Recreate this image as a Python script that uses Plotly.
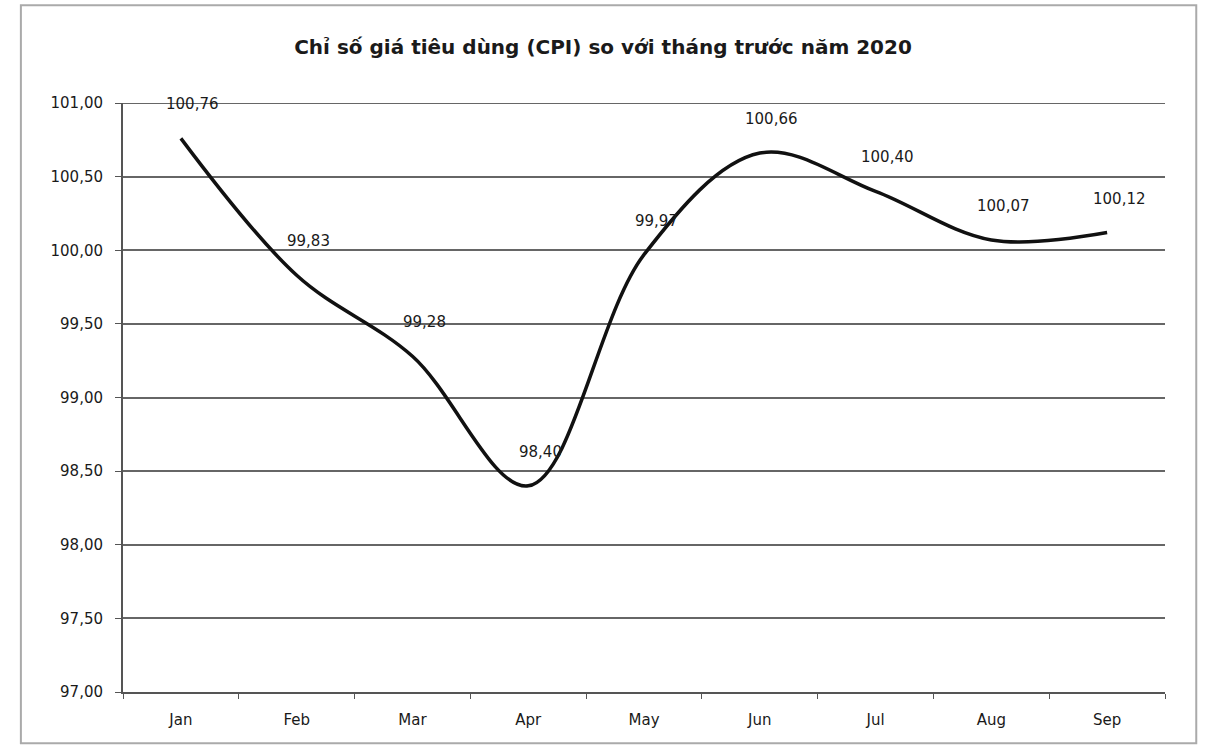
import plotly.graph_objects as go

months = ["Jan", "Feb", "Mar", "Apr", "May", "Jun", "Jul", "Aug", "Sep"]
cpi = [100.76, 99.83, 99.28, 98.40, 99.97, 100.66, 100.40, 100.07, 100.12]
y_ticks = [97.0, 97.5, 98.0, 98.5, 99.0, 99.5, 100.0, 100.5, 101.0]

title = "Chỉ số giá tiêu dùng (CPI) so với tháng trước năm 2020"
FONT = "DejaVu Sans, Arial"

fig = go.Figure()
fig.add_trace(go.Scatter(
    x=months, y=cpi, mode="lines",
    line=dict(color="#111111", width=3.5, shape="spline", smoothing=1.0),
    hoverinfo="x+y", showlegend=False,
))

for m, v in zip(months, cpi):
    fig.add_annotation(
        x=m, y=v, xref="x", yref="y",
        text=f"{v:.2f}".replace(".", ","),
        showarrow=False, yshift=34, xshift=12,
        font=dict(family=FONT, size=15, color="#1a1a1a"),
    )

fig.update_layout(
    width=1206, height=748,
    margin=dict(l=123, r=41, t=103, b=56),
    paper_bgcolor="white", plot_bgcolor="white",
    separators=",.",
    title=dict(text=f"<b>{title}</b>", x=0.5, xanchor="center", y=0.937, yanchor="middle",
               font=dict(family=FONT, size=20, color="#1a1a1a")),
    xaxis=dict(
        type="category", range=[-0.5, 8.5],
        showgrid=False, showline=True, linecolor="#555555", linewidth=2,
        ticks="outside", ticklen=5, tickcolor="#555555", tickson="boundaries",
        ticklabelstandoff=13,
        tickfont=dict(family=FONT, size=15, color="#1a1a1a"),
        fixedrange=True,
    ),
    yaxis=dict(
        range=[97.0, 101.0], tickvals=y_ticks, tickformat=".2f",
        showgrid=True, gridcolor="#666666", gridwidth=2,
        showline=True, linecolor="#555555", linewidth=2,
        ticks="outside", ticklen=6, tickcolor="#555555",
        ticklabelstandoff=9,
        tickfont=dict(family=FONT, size=15, color="#1a1a1a"),
        zeroline=False, fixedrange=True,
    ),
    shapes=[
        dict(type="rect", xref="paper", yref="paper",
             x0=-0.098, x1=1.03, y0=-0.087, y1=1.166,
             line=dict(color="#aaaaaa", width=2)),
        dict(type="line", xref="paper", yref="y", x0=0, x1=1, y0=101.0, y1=101.0,
             line=dict(color="#666666", width=2)),
    ],
)

fig.write_html("out.html")
